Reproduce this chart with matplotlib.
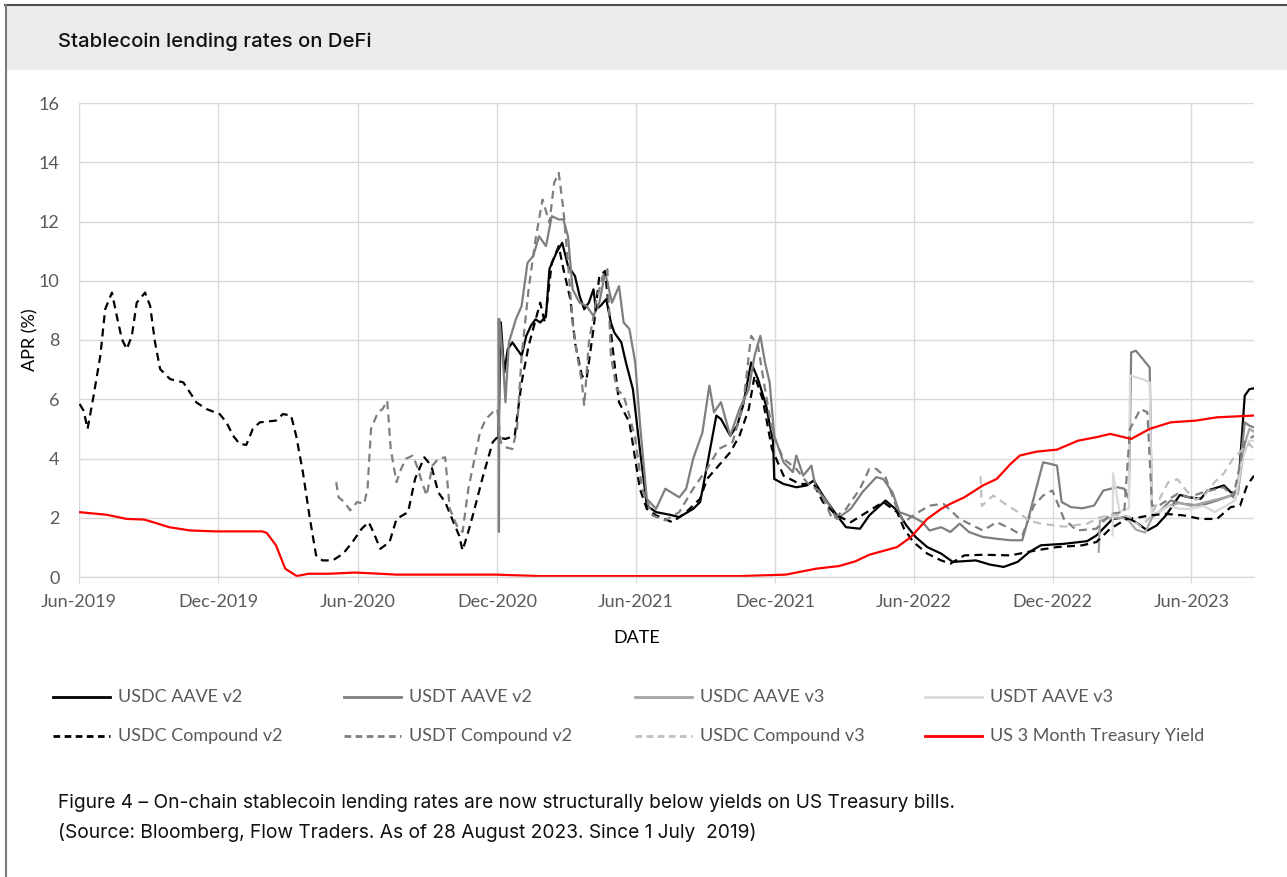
import matplotlib
matplotlib.use("Agg")
import matplotlib.pyplot as plt
from matplotlib.lines import Line2D
from matplotlib.patches import Rectangle
import pandas as pd
import numpy as np

# ---------------- data (months since 2019-06-01, APR %) ----------------
start_date = "2019-06-01"
tick_dates = ["2019-06-01", "2019-12-01", "2020-06-01", "2020-12-01", "2021-06-01",
              "2021-12-01", "2022-06-01", "2022-12-01", "2023-06-01"]
tick_labels = ["Jun-2019", "Dec-2019", "Jun-2020", "Dec-2020", "Jun-2021",
               "Dec-2021", "Jun-2022", "Dec-2022", "Jun-2023"]
y_ticks = [0, 2, 4, 6, 8, 10, 12, 14, 16]

usdc_aave_v2_m = [18.1, 18.2, 18.35, 18.5, 18.7, 19.1, 19.3, 19.5, 19.7, 19.9, 20.15, 20.3, 20.6, 20.85,
                  21.1, 21.4, 21.6, 21.8, 22.0, 22.2, 22.3, 22.5, 22.75, 22.95, 23.1, 23.4, 23.6, 23.9,
                  24.2, 24.5, 24.9, 25.5, 25.9, 26.5, 26.8, 27.1, 27.5, 27.7, 28.1, 28.4, 28.65, 29.0,
                  29.3, 29.65, 29.95, 30.0, 30.4, 30.95, 31.4, 31.7, 32.1, 32.7, 33.1, 33.7, 34.1, 34.8,
                  35.3, 35.7, 36.1, 36.6, 37.2, 37.7, 38.7, 39.3, 39.9, 40.5, 41.0, 41.5, 42.5, 43.5,
                  43.9, 44.6, 45.2, 45.6, 46.1, 46.5, 46.9, 47.5, 47.9, 48.4, 48.7, 49.4, 49.7, 50.0,
                  50.3, 50.5, 50.7]
usdc_aave_v2_v = [4.72, 8.6, 6.9, 7.69, 7.92, 7.47, 8.14, 8.48, 8.7, 8.59, 8.81, 10.4, 10.95, 11.28,
                  10.5, 10.16, 9.49, 9.04, 9.26, 9.71, 9.04, 9.15, 9.38, 8.59, 8.25, 7.92, 7.24, 6.34,
                  4.32, 2.41, 2.19, 2.10, 2.02, 2.30, 2.53, 3.76, 5.45, 5.33, 4.77, 5.11, 5.78, 7.24,
                  6.68, 5.78, 4.55, 3.31, 3.14, 3.03, 3.09, 3.26, 2.75, 2.08, 1.68, 1.63, 2.08, 2.58,
                  2.25, 1.74, 1.35, 1.01, 0.79, 0.51, 0.56, 0.42, 0.34, 0.51, 0.84, 1.07, 1.12, 1.21,
                  1.40, 1.96, 2.02, 1.85, 1.57, 1.74, 2.08, 2.77, 2.69, 2.64, 2.92, 3.09, 2.86, 2.81,
                  6.12, 6.34, 6.37]

usdt_aave_v2_m = [18.1, 18.12, 18.14, 18.3, 18.4, 18.55, 18.85, 19.1, 19.35, 19.6, 19.85, 20.15, 20.4,
                  20.7, 20.9, 21.1, 21.3, 21.6, 21.9, 22.2, 22.45, 22.7, 23.0, 23.3, 23.5, 23.75, 24.0,
                  24.2, 24.5, 24.9, 25.3, 25.9, 26.2, 26.5, 26.9, 27.2, 27.4, 27.7, 28.1, 28.5, 28.9,
                  29.15, 29.4, 29.6, 29.8, 30.0, 30.4, 30.8, 30.95, 31.25, 31.6, 31.8, 32.3, 32.7, 33.3,
                  33.8, 34.4, 34.7, 35.1, 35.4, 36.0, 36.4, 36.7, 37.2, 37.6, 38.0, 38.4, 39.0, 39.6,
                  40.2, 40.7, 41.0, 41.3, 41.6, 41.9, 42.2, 42.4, 42.8, 43.3, 43.8, 44.2, 44.8, 45.1,
                  45.3, 45.4, 45.6, 45.9, 46.2, 46.3, 46.6, 47.1, 47.65, 48.4, 49.1, 49.7, 50.0, 50.3,
                  50.5, 50.7]
usdt_aave_v2_v = [8.7, 1.52, 8.7, 7.24, 5.9, 7.92, 8.7, 9.15, 10.6, 10.84, 11.5, 11.17, 12.18,
                  12.07, 12.07, 11.5, 9.71, 9.26, 9.15, 8.81, 9.26, 10.27, 9.26, 9.82, 8.59, 8.37, 7.24,
                  5.22, 2.64, 2.30, 2.98, 2.69, 2.98, 3.99, 4.88, 6.46, 5.56, 5.9, 4.77, 5.67, 6.34,
                  7.47, 8.14, 7.24, 6.57, 4.77, 3.87, 3.54, 4.10, 3.42, 3.76, 2.98, 2.53, 1.96, 2.30,
                  2.86, 3.37, 3.31, 2.86, 2.19, 2.02, 1.85, 1.57, 1.68, 1.52, 1.80, 1.52, 1.35, 1.29,
                  1.24, 1.24, 2.08, 2.98, 3.87, 3.82, 3.76, 2.53, 2.36, 2.32, 2.41, 2.92, 3.03, 2.98,
                  2.64, 7.58, 7.64, 7.36, 7.07, 2.08, 2.19, 2.58, 2.47, 2.41, 2.58, 2.75, 2.98, 5.22,
                  5.11, 5.05]

usdc_aave_v3_m = [44.0, 44.05, 44.5, 45.0, 45.3, 45.6, 46.0, 46.3, 46.6, 47.0, 47.5, 48.0, 48.5, 49.0,
                  49.5, 50.0, 50.3, 50.5, 50.7]
usdc_aave_v3_v = [0.85, 1.9, 2.0, 2.0, 1.9, 1.6, 1.5, 2.0, 2.2, 2.4, 2.5, 2.4, 2.5, 2.6,
                  2.7, 2.8, 4.5, 5.0, 4.9]

usdt_aave_v3_m = [44.6, 44.62, 44.9, 45.2, 45.3, 45.35, 45.9, 46.2, 46.3, 46.6, 47.0, 47.5, 48.0, 48.5,
                  49.0, 49.5, 49.9, 50.2, 50.5, 50.7]
usdt_aave_v3_v = [1.4, 3.5, 2.2, 2.3, 2.3, 6.8, 6.68, 6.57, 2.1, 2.2, 2.4, 2.3, 2.3, 2.4,
                  2.2, 2.4, 2.6, 4.0, 4.6, 4.6]

usdc_comp_v2_m = [0.03, 0.2, 0.37, 0.63, 0.92, 1.13, 1.42, 1.63, 1.85, 2.06, 2.28, 2.49, 2.85, 3.07,
                  3.28, 3.5, 3.93, 4.5, 5.07, 5.5, 6.07, 6.36, 6.65, 6.93, 7.22, 7.5, 7.8, 8.5, 8.8,
                  9.15, 9.37, 9.66, 9.94, 10.23, 10.5, 10.95, 11.4, 11.8, 12.2, 12.5, 12.7, 13.0, 13.4,
                  13.7, 14.2, 14.5, 14.9, 15.2, 15.5, 15.8, 16.1, 16.4, 16.55, 16.75, 17.0, 17.4, 17.85,
                  18.05, 18.4, 18.8, 19.1, 19.4, 19.9, 20.1, 20.4, 20.7, 20.9, 21.2, 21.4, 21.7, 21.9,
                  22.2, 22.45, 22.7, 23.0, 23.3, 23.75, 24.2, 24.5, 24.9, 25.6, 26.2, 26.8, 27.1, 27.6,
                  28.1, 28.5, 28.9, 29.15, 29.5, 29.9, 30.4, 31.1, 31.7, 32.1, 32.7, 33.3, 34.0, 34.7,
                  35.3, 35.6, 36.0, 36.6, 37.2, 37.6, 38.2, 39.0, 40.2, 41.3, 42.2, 43.3, 43.9, 44.5,
                  45.2, 45.8, 46.2, 46.9, 47.65, 48.4, 49.1, 49.7, 50.1, 50.4, 50.7]
usdc_comp_v2_v = [5.84, 5.61, 5.0, 6.12, 7.47, 9.04, 9.6, 8.81, 8.03, 7.69, 8.14, 9.26, 9.6, 9.15,
                  7.92, 7.02, 6.68, 6.57, 5.89, 5.67, 5.5, 5.22, 4.77, 4.49, 4.46, 5.0, 5.22, 5.28, 5.5,
                  5.45, 4.77, 3.54, 2.08, 0.73, 0.56, 0.56, 0.79, 1.18, 1.63, 1.85, 1.52, 0.95, 1.18,
                  1.96, 2.19, 3.31, 4.04, 3.76, 2.86, 2.53, 1.96, 1.40, 0.9, 1.4, 2.1, 3.31, 4.55,
                  4.72, 4.66, 4.77, 6.57, 7.8, 9.26, 8.59, 10.6, 11.17, 10.4, 9.38, 7.92, 6.79, 6.68,
                  8.37, 10.16, 10.33, 7.92, 5.9, 5.22, 2.98, 2.30, 2.08, 1.85, 2.19, 2.64, 3.31, 3.76,
                  4.21, 4.77, 5.67, 6.79, 6.0, 4.32, 3.42, 3.14, 3.14, 2.53, 2.08, 1.85, 2.19, 2.53,
                  2.19, 1.63, 1.18, 0.79, 0.56, 0.45, 0.73, 0.75, 0.73, 0.9, 1.01, 1.07, 1.18, 1.63,
                  1.96, 2.02, 2.08, 2.13, 2.08, 1.96, 1.96, 2.36, 2.41, 3.09, 3.42]

usdt_comp_v2_m = [11.1, 11.2, 11.45, 11.7, 12.0, 12.3, 12.45, 12.6, 12.9, 13.1, 13.3, 13.45, 13.7, 13.9,
                  14.1, 14.4, 14.6, 14.8, 15.0, 15.25, 15.5, 15.8, 16.0, 16.3, 16.55, 16.8, 17.3, 17.55,
                  17.85, 18.05, 18.2, 18.4, 18.7, 18.9, 19.1, 19.4, 19.7, 20.0, 20.3, 20.5, 20.7, 20.9,
                  21.1, 21.3, 21.5, 21.7, 21.8, 22.0, 22.3, 22.6, 22.8, 22.95, 23.2, 23.5, 23.75, 24.0,
                  24.3, 24.75, 25.3, 25.9, 26.5, 27.1, 27.6, 28.2, 28.65, 29.0, 29.3, 29.6, 29.95, 30.4,
                  30.95, 31.4, 32.0, 32.5, 33.1, 33.7, 34.1, 34.4, 34.8, 35.3, 35.6, 36.1, 36.7, 37.3,
                  38.0, 39.0, 39.6, 40.2, 40.7, 41.2, 41.6, 42.0, 42.5, 43.05, 43.9, 44.5, 45.1, 45.35,
                  45.8, 46.1, 46.3, 46.6, 47.4, 47.9, 48.5, 49.4, 49.8, 50.3, 50.7]
usdt_comp_v2_v = [3.2, 2.69, 2.53, 2.25, 2.53, 2.47, 2.98, 5.0, 5.56, 5.67, 5.95, 4.32, 3.2, 3.65,
                  3.99, 4.1, 3.71, 3.2, 2.75, 3.76, 3.99, 4.04, 2.30, 1.74, 1.52, 2.98, 4.88, 5.33,
                  5.56, 5.67, 4.55, 4.38, 4.32, 5.0, 7.47, 9.71, 11.4, 12.74, 11.96, 13.3, 13.64, 12.41,
                  10.6, 8.59, 7.47, 6.57, 5.78, 7.92, 9.26, 10.16, 10.39, 7.47, 6.34, 6.12, 5.45, 4.66,
                  2.98, 2.08, 1.91, 2.19, 2.98, 3.65, 4.32, 4.55, 5.78, 8.14, 7.8, 6.34, 4.77, 3.99,
                  3.65, 3.2, 2.86, 1.96, 2.30, 2.98, 3.65, 3.65, 3.37, 2.30, 1.85, 2.13, 2.41, 2.47,
                  1.96, 1.57, 1.85, 1.63, 1.40, 2.41, 2.75, 2.92, 1.96, 1.57, 1.63, 2.13, 2.19, 5.0,
                  5.67, 5.56, 2.41, 2.41, 2.81, 2.69, 2.86, 3.03, 2.69, 4.55, 4.77]

usdc_comp_v3_m = [38.9, 38.95, 39.45, 39.9, 40.5, 41.0, 41.5, 42.0, 42.5, 43.0, 43.5, 44.0, 44.5, 45.0,
                  45.4, 45.8, 46.2, 46.6, 47.0, 47.4, 47.8, 48.2, 48.6, 49.0, 49.4, 49.8, 50.2, 50.5,
                  50.7]
usdc_comp_v3_v = [3.4, 2.4, 2.75, 2.5, 2.2, 1.9, 1.8, 1.75, 1.7, 1.75, 1.8, 2.0, 2.1, 2.1,
                  2.0, 1.7, 2.0, 2.6, 3.2, 3.3, 2.9, 2.6, 2.8, 3.2, 3.5, 4.0, 4.3, 4.5, 4.3]

tbill_m = [0, 1.2, 2.06, 2.8, 3.2, 3.9, 4.8, 5.9, 7.9, 8.1, 8.5, 8.9, 9.4, 9.9, 10.8, 11.9, 13.0,
           13.7, 18, 19.9, 24, 28.5, 30.5, 31.8, 32.8, 33.5, 34.1, 35.3, 35.9, 36.6, 37.2, 37.6,
           38.2, 39.0, 39.6, 40.2, 40.6, 41.3, 42.2, 43.1, 43.9, 44.5, 45.4, 45.8, 46.2, 47.1,
           48.2, 49.1, 50.7]
tbill_v = [2.19, 2.10, 1.96, 1.94, 1.85, 1.68, 1.57, 1.54, 1.54, 1.49, 1.07, 0.28, 0.03, 0.11, 0.11,
           0.15, 0.11, 0.08, 0.08, 0.03, 0.03, 0.03, 0.08, 0.28, 0.37, 0.53, 0.75, 1.01, 1.35, 1.96,
           2.30, 2.47, 2.69, 3.09, 3.31, 3.82, 4.10, 4.23, 4.30, 4.60, 4.72, 4.83, 4.66, 4.83, 5.0,
           5.22, 5.28, 5.39, 5.45]

series = [
    ("USDC AAVE v2", usdc_aave_v2_m, usdc_aave_v2_v, "#000000", "-"),
    ("USDT AAVE v2", usdt_aave_v2_m, usdt_aave_v2_v, "#7f7f7f", "-"),
    ("USDC AAVE v3", usdc_aave_v3_m, usdc_aave_v3_v, "#a5a5a5", "-"),
    ("USDT AAVE v3", usdt_aave_v3_m, usdt_aave_v3_v, "#d9d9d9", "-"),
    ("USDC Compound v2", usdc_comp_v2_m, usdc_comp_v2_v, "#000000", "--"),
    ("USDT Compound v2", usdt_comp_v2_m, usdt_comp_v2_v, "#7f7f7f", "--"),
    ("USDC Compound v3", usdc_comp_v3_m, usdc_comp_v3_v, "#bfbfbf", "--"),
    ("US 3 Month Treasury Yield", tbill_m, tbill_v, "#ff0000", "-"),
]

DASH = (0, (3.6, 2.4))
t0 = pd.Timestamp(start_date)

def to_dates(months):
    return t0 + pd.to_timedelta(np.asarray(months) * 30.4375, unit="D")

# ---------------- figure ----------------
W, H = 1287, 877
fig = plt.figure(figsize=(W / 100, H / 100), dpi=100)
fig.patch.set_facecolor("white")

def fx(px):
    return px / W

def fy(py):
    return 1 - py / H

TICKFONT = ["Lato", "DejaVu Sans"]
CAPFONT = ["Inter", "DejaVu Sans"]

# header band and frame
fig.add_artist(Rectangle((fx(6), fy(70)), 1 - fx(6), fy(6) - fy(70), transform=fig.transFigure,
                         facecolor="#ebebeb", edgecolor="none", zorder=0))
fig.add_artist(Line2D([fx(5), 1], [fy(5), fy(5)], transform=fig.transFigure, color="#4d4d4d", lw=1.5))
fig.add_artist(Line2D([fx(6), fx(6)], [fy(5), 0], transform=fig.transFigure, color="#7a7a7a", lw=1.5))

fig.text(fx(58), fy(42), "Stablecoin lending rates on DeFi", fontsize=14.6, family=CAPFONT,
         fontweight="medium", va="center", ha="left", color="#111111")

ax = fig.add_axes([fx(79), fy(577), fx(1254) - fx(79), fy(103) - fy(577)])

for name, m, v, col, ls in series:
    kw = dict(color=col, lw=1.6, solid_joinstyle="round")
    if ls == "--":
        kw["linestyle"] = DASH
    ax.plot(to_dates(m), v, label=name, **kw)

ax.set_ylim(0, 16)
ax.set_yticks(y_ticks)
ax.set_xlim(t0, to_dates([tbill_m[-1]])[0])
ax.set_xticks(pd.to_datetime(tick_dates))
ax.set_xticklabels(tick_labels)
ax.grid(True, color="#d9d9d9", lw=1.0)
ax.set_axisbelow(True)
for s in ["top", "right", "left"]:
    ax.spines[s].set_visible(False)
ax.spines["bottom"].set_color("#d9d9d9")
ax.spines["bottom"].set_linewidth(1.0)
ax.tick_params(axis="x", length=4, color="#d9d9d9", pad=8, labelsize=13, labelcolor="#595959")
ax.tick_params(axis="y", length=0, pad=14, labelsize=13, labelcolor="#595959")
for lab in ax.get_xticklabels() + ax.get_yticklabels():
    lab.set_family(TICKFONT)

fig.text(fx(637), fy(638), "DATE", fontsize=13, family=TICKFONT, ha="center", va="center")
fig.text(fx(30), fy(340), "APR (%)", fontsize=13, family=TICKFONT, ha="center", va="center",
         rotation=90)

# legend (2 rows x 4 columns)
col_x = [53, 344, 635, 925]
row_y = [697, 736]
for i, (name, m, v, col, ls) in enumerate(series):
    r, c = divmod(i, 4)
    x0, y0 = col_x[c], row_y[r]
    kw = dict(color=col, lw=2.0)
    if ls == "--":
        kw["linestyle"] = (0, (2.4, 1.6))
    fig.add_artist(Line2D([fx(x0), fx(x0 + 57)], [fy(y0), fy(y0)], transform=fig.transFigure, **kw))
    fig.text(fx(x0 + 65), fy(y0), name, fontsize=13, family=TICKFONT, color="#595959",
             ha="left", va="center")

fig.text(fx(58), fy(803),
         "Figure 4 \u2013 On-chain stablecoin lending rates are now structurally below yields on US Treasury bills.",
         fontsize=13.8, family=CAPFONT, ha="left", va="center", color="#111111")
fig.text(fx(58), fy(833),
         "(Source: Bloomberg, Flow Traders. As of 28 August 2023. Since 1 July  2019)",
         fontsize=13.8, family=CAPFONT, ha="left", va="center", color="#111111")

fig.savefig("out.png", dpi=100, facecolor="white")
